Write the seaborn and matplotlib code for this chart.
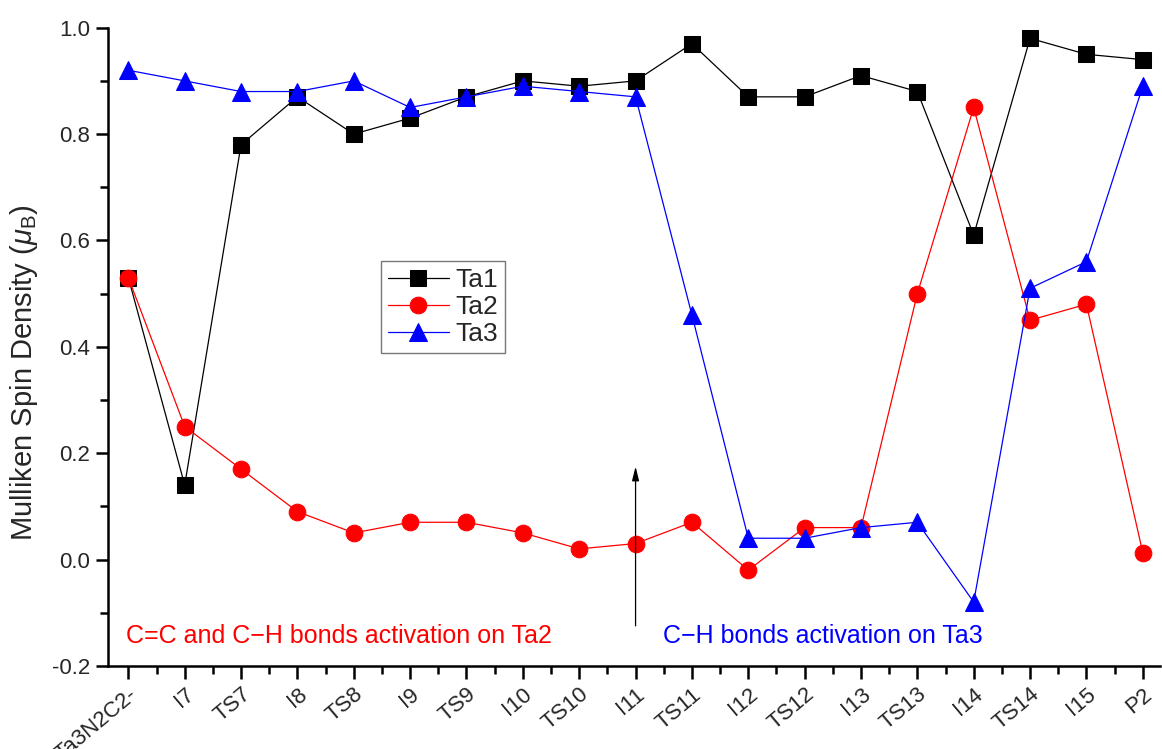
import numpy as np
import pandas as pd
import matplotlib
matplotlib.use("Agg")
import matplotlib.pyplot as plt
from matplotlib.ticker import MultipleLocator
import seaborn as sns

categories = ["Ta3N2C2-", "I7", "TS7", "I8", "TS8", "I9", "TS9", "I10", "TS10", "I11",
              "TS11", "I12", "TS12", "I13", "TS13", "I14", "TS14", "I15", "P2"]
ta1 = [0.53, 0.14, 0.78, 0.87, 0.80, 0.83, 0.87, 0.90, 0.89, 0.90,
       0.97, 0.87, 0.87, 0.91, 0.88, 0.61, 0.98, 0.95, 0.94]
ta2 = [0.53, 0.25, 0.17, 0.09, 0.05, 0.07, 0.07, 0.05, 0.02, 0.03,
       0.07, -0.02, 0.06, 0.06, 0.50, 0.85, 0.45, 0.48, 0.013]
ta3 = [0.92, 0.90, 0.88, 0.88, 0.90, 0.85, 0.87, 0.89, 0.88, 0.87,
       0.46, 0.04, 0.04, 0.06, 0.07, -0.08, 0.51, 0.56, 0.89]
series_names = ["Ta1", "Ta2", "Ta3"]

sns.set_theme(style="white")
plt.rcParams["font.family"] = ["Liberation Sans", "DejaVu Sans"]
plt.rcParams["mathtext.fontset"] = "custom"
plt.rcParams["mathtext.it"] = "Liberation Sans:italic"
plt.rcParams["mathtext.rm"] = "Liberation Sans"

pos = np.arange(len(categories))
df = pd.DataFrame({
    "pos": np.tile(pos, 3),
    "value": ta1 + ta2 + ta3,
    "series": np.repeat(series_names, len(categories)),
})

fig = plt.figure(figsize=(11.62, 7.49), dpi=100)
ax = fig.add_axes([0.093, 0.111, 0.905, 0.852])

palette = {"Ta1": "black", "Ta2": "red", "Ta3": "blue"}
markers = {"Ta1": "s", "Ta2": "o", "Ta3": "^"}
msize = {"Ta1": 11, "Ta2": 12, "Ta3": 13}
for name in series_names:
    sub = df[df["series"] == name]
    sns.lineplot(data=sub, x="pos", y="value", ax=ax, color=palette[name],
                 marker=markers[name], markersize=msize[name], markeredgecolor=palette[name],
                 linewidth=0.9, label=name)

ax.set_xlim(-0.36, 18.3)
ax.set_ylim(-0.2, 1.0)
ax.set_xticks(pos)
ax.set_xticklabels(categories, rotation=40, ha="right", rotation_mode="anchor", fontsize=16)
ax.xaxis.set_minor_locator(MultipleLocator(0.5))
ax.yaxis.set_major_locator(MultipleLocator(0.2))
ax.yaxis.set_minor_locator(MultipleLocator(0.1))
ax.set_yticklabels([f"{v:.1f}" for v in ax.get_yticks()])
ax.tick_params(axis="both", which="major", direction="out", length=9, width=1.8,
               labelsize=16, bottom=True, left=True, color="black", pad=4)
ax.tick_params(axis="both", which="minor", direction="out", length=5.5, width=1.8,
               bottom=True, left=True, color="black")
ax.set_xlabel("")
ax.set_ylabel(r"Mulliken Spin Density ($\mu_{\mathrm{B}}$)", fontsize=21)
ax.yaxis.set_label_coords(-0.065, 0.46)

for side in ["top", "right"]:
    ax.spines[side].set_visible(False)
for side in ["left", "bottom"]:
    ax.spines[side].set_color("black")
    ax.spines[side].set_linewidth(1.8)

leg = ax.legend(loc="upper left", bbox_to_anchor=(0.26, 0.634), fontsize=19,
                frameon=True, fancybox=False, edgecolor="#555555",
                handlelength=2.3, borderpad=0.25, labelspacing=0.12, handletextpad=0.25,
                borderaxespad=0)
leg.get_frame().set_linewidth(1.0)

ax.annotate("", xy=(9, 0.18), xytext=(9, -0.13),
            arrowprops=dict(arrowstyle="-|>,head_length=0.6,head_width=0.15",
                            color="black", lw=0.9, mutation_scale=14))
ax.text(-0.05, -0.143, "C=C and C\u2212H bonds activation on Ta2", color="red",
        fontsize=18, va="center", ha="left")
ax.text(9.48, -0.143, "C\u2212H bonds activation on Ta3", color="blue",
        fontsize=18, va="center", ha="left")

fig.savefig("out.png", dpi=100)
